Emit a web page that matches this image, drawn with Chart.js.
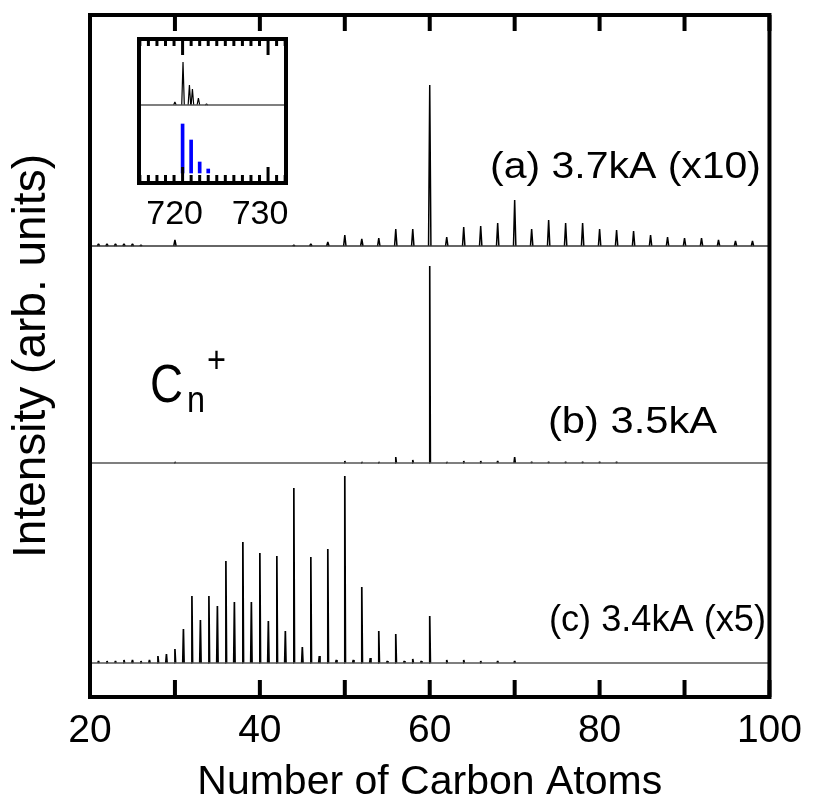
<!DOCTYPE html>
<html>
<head>
<meta charset="utf-8">
<script src="https://cdn.jsdelivr.net/npm/chart.js@4.4.1/dist/chart.umd.min.js"></script>
<style>
  html, body { margin: 0; padding: 0; background: #fff; }
  #wrap { position: relative; width: 813px; height: 801px; }
  #main { position: absolute; left: 0; top: 0; }
  #inset { position: absolute; left: 110px; top: 33px; }
</style>
</head>
<body>
<div id="wrap">
  <canvas id="main" width="813" height="801"></canvas>
  <canvas id="inset" width="200" height="200"></canvas>
</div>
<script>
const FONT = "'Liberation Sans', Arial, Helvetica, sans-serif";

// cluster size n and peak height (arb. units) for each discharge current
const sizesA = [21, 22, 23, 24, 25, 26, 30, 44, 46, 48, 50, 52, 54, 56, 58, 60,
  62, 64, 66, 68, 70, 72, 74, 76, 78, 80, 82, 84, 86, 88, 90, 92, 94, 96, 98];
const heightsA = [2, 2, 2, 2, 2, 1, 6, 1, 2, 4, 11, 7, 8, 17, 17, 161,
  9, 19, 20, 23, 46, 17, 26, 23, 23, 17, 16, 15, 11, 9, 8, 8, 6, 5, 5];

const sizesB = [30, 50, 52, 54, 56, 58, 60, 62, 64, 66, 68, 70, 72, 74, 76, 78, 80, 82];
const heightsB = [1, 2, 1, 1, 6, 3, 197, 1, 2, 2, 2, 6, 1, 1, 1, 1, 1, 1];

const sizesC = [21, 22, 23, 24, 25, 26, 27, 28, 29, 30, 31, 32, 33, 34, 35, 36, 37, 38, 39, 40,
  41, 42, 43, 44, 45, 46, 47, 48, 49, 50, 51, 52, 53, 54, 55, 56, 57, 58, 59, 60,
  62, 64, 66, 68, 70];
const heightsC = [2, 2, 2, 3, 3, 2, 3, 7, 9, 14, 34, 67, 43, 67, 57, 102, 61, 121, 61, 110,
  42, 107, 32, 175, 16, 106, 7, 114, 3, 187, 3, 76, 5, 32, 2, 29, 2, 4, 2, 47,
  3, 3, 2, 2, 2];

// vertical offsets of the three stacked spectra
const baseA = 451;
const baseB = 234;
const baseC = 34;

// main x axis: minor marks every 10, labels every 20
const mainTicks = [20, 30, 40, 50, 60, 70, 80, 90, 100];

// inset: measured C60+ isotope pattern and calculated distribution (blue)
const insetMass = [719.1, 720.05, 720.8, 721.15, 721.85, 722.8];
const insetHeights = [3, 43, 20, 16, 7, 1];
const calcMass = [720, 721, 722, 723];
const calcHeights = [49, 33, 11, 4];
const insetBaseMeasured = 78;
const insetBaseCalc = 10;

function spikes(xs, hs, base, w) {
  const pts = [];
  xs.forEach((n, i) => {
    pts.push({ x: n - w, y: base });
    pts.push({ x: n, y: base + hs[i] });
    pts.push({ x: n + w, y: base });
    pts.push({ x: n + w, y: null });
  });
  return pts;
}

function baseline(x0, x1, base, color) {
  return {
    data: [{ x: x0, y: base }, { x: x1, y: base }],
    borderColor: color, borderWidth: 1.6, pointRadius: 0
  };
}

function spikeSet(xs, hs, base, w, lw) {
  return {
    data: spikes(xs, hs, base, w),
    borderColor: '#000', borderWidth: lw, pointRadius: 0, spanGaps: false,
    borderJoinStyle: 'bevel'
  };
}

function drawFitted(ctx, text, left, right, base, size) {
  ctx.font = size + 'px ' + FONT;
  const w = ctx.measureText(text).width;
  ctx.save();
  ctx.translate(left, base);
  ctx.scale((right - left) / w, 1);
  ctx.fillText(text, 0, 0);
  ctx.restore();
}

const mainLabels = {
  id: 'mainLabels',
  afterDraw(chart) {
    const ctx = chart.ctx;
    ctx.save();
    ctx.fillStyle = '#000';
    ctx.textBaseline = 'alphabetic';
    drawFitted(ctx, '(a) 3.7kA (x10)', 490, 761, 178, 36);
    drawFitted(ctx, '(b) 3.5kA', 548, 717, 433, 36);
    drawFitted(ctx, '(c) 3.4kA (x5)', 549, 766, 631, 36);
    drawFitted(ctx, 'C', 150, 183, 402, 54);
    drawFitted(ctx, 'n', 187, 205, 412, 36);
    drawFitted(ctx, '+', 207, 226, 372, 36);
    ctx.restore();
  }
};

const mainFrame = {
  id: 'mainFrame',
  afterDraw(chart) {
    const ctx = chart.ctx;
    const a = chart.chartArea;
    const x = chart.scales.x;
    ctx.save();
    ctx.fillStyle = '#000';
    mainTicks.forEach(v => {
      const px = x.getPixelForValue(v);
      ctx.fillRect(px - 2, a.bottom - 17, 4, 17);
      ctx.fillRect(px - 2, a.top, 4, 16);
    });
    ctx.strokeStyle = '#000';
    ctx.lineWidth = 4;
    ctx.strokeRect(a.left, a.top, a.right - a.left, a.bottom - a.top);
    ctx.restore();
  }
};

const insetFrame = {
  id: 'insetFrame',
  beforeDatasetsDraw(chart) {
    const a = chart.chartArea;
    chart.ctx.save();
    chart.ctx.fillStyle = '#fff';
    chart.ctx.fillRect(a.left, a.top, a.right - a.left, a.bottom - a.top);
    chart.ctx.restore();
  },
  afterDraw(chart) {
    const ctx = chart.ctx;
    const a = chart.chartArea;
    const x = chart.scales.x;
    ctx.save();
    ctx.fillStyle = '#000';
    for (let m = 715; m <= 732; m++) {
      const px = x.getPixelForValue(m);
      const major = m % 10 === 0;
      ctx.fillRect(px - 1.5, a.top, 3, major ? 16 : 7);
      ctx.fillRect(px - 1.5, a.bottom - (major ? 16 : 8), 3, major ? 16 : 8);
    }
    ctx.strokeStyle = '#000';
    ctx.lineWidth = 4;
    ctx.strokeRect(a.left, a.top, a.right - a.left, a.bottom - a.top);
    ctx.restore();
  }
};

// inset canvas sits at (110, 33); its plot box spans 139..286 x 39..183 of the page
new Chart(document.getElementById('inset'), {
  type: 'line',
  data: {
    datasets: [
      baseline(714.9, 732.1, insetBaseMeasured, '#555'),
      spikeSet(insetMass, insetHeights, insetBaseMeasured, 0.15, 1.2),
      {
        type: 'bar',
        data: calcMass.map((m, i) => ({ x: m, y: [insetBaseCalc, insetBaseCalc + calcHeights[i]] })),
        backgroundColor: '#0000ff', borderWidth: 0, barThickness: 3
      }
    ]
  },
  options: {
    responsive: false,
    animation: false,
    layout: { padding: { top: 6, right: 24, left: 29, bottom: 0 } },
    plugins: { legend: { display: false }, tooltip: { enabled: false } },
    elements: { line: { tension: 0 }, point: { radius: 0 } },
    scales: {
      x: {
        type: 'linear', min: 714.9, max: 732.1, offset: false,
        ticks: {
          stepSize: 1, autoSkip: false, maxRotation: 0, padding: 11, labelOffset: -8, color: '#000',
          font: { family: FONT, size: 34 },
          callback: v => (Math.abs(v - 720) < 0.01 || Math.abs(v - 730) < 0.01 ? String(Math.round(v)) : '')
        },
        grid: { display: false, drawTicks: false },
        border: { display: false },
        afterFit: s => { s.height = 50; }
      },
      y: { display: false, min: 0, max: 144 }
    }
  },
  plugins: [insetFrame]
});

new Chart(document.getElementById('main'), {
  type: 'line',
  data: {
    datasets: [
      baseline(20, 100, baseA, '#333'),
      spikeSet(sizesA, heightsA, baseA, 0.14, 1.5),
      baseline(20, 100, baseB, '#555'),
      spikeSet(sizesB, heightsB, baseB, 0.08, 1.6),
      baseline(20, 100, baseC, '#555'),
      spikeSet(sizesC, heightsC, baseC, 0.08, 1.7)
    ]
  },
  options: {
    responsive: false,
    animation: false,
    layout: { padding: { top: 15, right: 40, left: 0, bottom: 0 } },
    plugins: { legend: { display: false }, tooltip: { enabled: false } },
    elements: { line: { tension: 0 }, point: { radius: 0 } },
    scales: {
      x: {
        type: 'linear', min: 20, max: 100,
        ticks: {
          stepSize: 10, autoSkip: false, maxRotation: 0, padding: 11, color: '#000',
          font: { family: FONT, size: 39 },
          callback: v => (v % 20 === 0 ? String(v) : '')
        },
        grid: { display: false, drawTicks: false },
        border: { display: false },
        title: {
          display: true, text: 'Number of Carbon Atoms', color: '#000', padding: 0,
          font: { family: FONT, size: 41, lineHeight: 0.9 }
        },
        afterFit: s => { s.height = 104; }
      },
      y: {
        type: 'linear', min: 0, max: 682,
        ticks: { display: false },
        grid: { display: false, drawTicks: false },
        border: { display: false },
        title: {
          display: true, text: 'Intensity (arb. units)', color: '#000',
          padding: { top: 5, bottom: 0 },
          font: { family: FONT, size: 46 }
        },
        afterFit: s => { s.width = 90; }
      }
    }
  },
  plugins: [mainLabels, mainFrame]
});
</script>
</body>
</html>
